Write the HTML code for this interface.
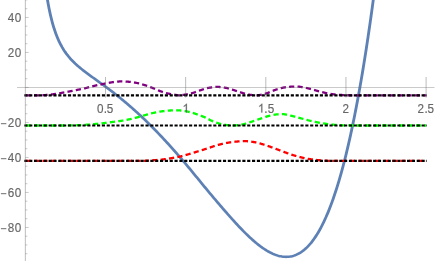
<!DOCTYPE html>
<html><head><meta charset="utf-8"><title>plot</title>
<style>
html,body{margin:0;padding:0;background:#fff;}
body{width:436px;height:261px;overflow:hidden;}
svg{display:block;}
text{font-family:"Liberation Sans",sans-serif;font-size:11.7px;fill:#666;stroke:#666;stroke-width:0.15px;letter-spacing:0.45px;}
</style></head><body>
<svg width="436" height="261" viewBox="0 0 436 261">
<rect width="436" height="261" fill="#fff"/>
<g transform="scale(1.12,1)"><path d="M40.62,-13.19 L40.85,-11.38 L41.07,-9.62 L41.29,-7.90 L41.52,-6.24 L41.74,-4.62 L41.96,-3.04 L42.19,-1.51 L42.41,-0.02 L42.63,1.44 L42.86,2.85 L43.08,4.23 L43.30,5.57 L43.53,6.88 L43.75,8.16 L43.97,9.40 L44.20,10.61 L44.42,11.80 L44.64,12.95 L44.87,14.08 L45.09,15.17 L45.31,16.25 L45.54,17.30 L45.76,18.32 L45.98,19.32 L46.21,20.30 L46.43,21.25 L46.65,22.18 L46.87,23.10 L47.10,23.99 L47.32,24.86 L47.54,25.71 L47.77,26.55 L47.99,27.37 L48.21,28.17 L48.44,28.95 L48.66,29.72 L48.88,30.47 L49.11,31.20 L49.33,31.92 L49.55,32.63 L49.78,33.32 L50.00,34.00 L50.22,34.66 L50.45,35.31 L50.67,35.95 L50.89,36.58 L51.12,37.20 L51.34,37.80 L51.56,38.39 L51.79,38.97 L52.01,39.54 L52.23,40.10 L52.46,40.65 L52.68,41.19 L52.90,41.72 L53.12,42.24 L53.35,42.76 L53.57,43.26 L54.46,45.19 L55.36,47.00 L56.25,48.69 L57.14,50.28 L58.04,51.79 L58.93,53.21 L59.82,54.56 L60.71,55.84 L61.61,57.06 L62.50,58.22 L63.39,59.33 L64.29,60.40 L65.18,61.43 L66.07,62.43 L66.96,63.39 L67.86,64.31 L68.75,65.22 L69.64,66.09 L70.54,66.95 L71.43,67.79 L72.32,68.61 L73.21,69.41 L74.11,70.20 L75.00,70.98 L75.89,71.74 L76.79,72.50 L77.68,73.25 L78.57,73.99 L79.46,74.72 L80.36,75.46 L81.25,76.18 L82.14,76.90 L83.04,77.63 L83.93,78.34 L84.82,79.06 L85.71,79.78 L86.61,80.50 L87.50,81.22 L88.39,81.93 L89.29,82.65 L90.18,83.38 L91.07,84.10 L91.96,84.83 L92.86,85.56 L93.75,86.29 L94.64,87.03 L95.54,87.77 L96.43,88.52 L97.32,89.26 L98.21,90.02 L99.11,90.78 L100.00,91.54 L100.89,92.31 L101.79,93.08 L102.68,93.86 L103.57,94.64 L104.46,95.43 L105.36,96.22 L106.25,97.02 L107.14,97.83 L108.04,98.64 L108.93,99.46 L109.82,100.28 L110.71,101.11 L111.61,101.94 L112.50,102.78 L113.39,103.63 L114.29,104.49 L115.18,105.35 L116.07,106.21 L116.96,107.08 L117.86,107.96 L118.75,108.85 L119.64,109.74 L120.54,110.63 L121.43,111.54 L122.32,112.45 L123.21,113.36 L124.11,114.29 L125.00,115.21 L125.89,116.15 L126.79,117.09 L127.68,118.04 L128.57,118.99 L129.46,119.95 L130.36,120.92 L131.25,121.89 L132.14,122.87 L133.04,123.85 L133.93,124.84 L134.82,125.84 L135.71,126.84 L136.61,127.85 L137.50,128.87 L138.39,129.89 L139.29,130.91 L140.18,131.94 L141.07,132.98 L141.96,134.03 L142.86,135.08 L143.75,136.13 L144.64,137.19 L145.54,138.26 L146.43,139.33 L147.32,140.41 L148.21,141.49 L149.11,142.58 L150.00,143.67 L150.89,144.77 L151.79,145.88 L152.68,146.99 L153.57,148.10 L154.46,149.23 L155.36,150.35 L156.25,151.48 L157.14,152.62 L158.04,153.76 L158.93,154.91 L159.82,156.06 L160.71,157.22 L161.61,158.39 L162.50,159.56 L163.39,160.73 L164.29,161.91 L165.18,163.09 L166.07,164.28 L166.96,165.48 L167.86,166.67 L168.75,167.88 L169.64,169.08 L170.54,170.29 L171.43,171.51 L172.32,172.72 L173.21,173.94 L174.11,175.16 L175.00,176.39 L175.89,177.61 L176.79,178.83 L177.68,180.06 L178.57,181.28 L179.46,182.51 L180.36,183.73 L181.25,184.95 L182.14,186.16 L183.04,187.38 L183.93,188.59 L184.82,189.80 L185.71,191.01 L186.61,192.21 L187.50,193.41 L188.39,194.61 L189.29,195.80 L190.18,196.99 L191.07,198.17 L191.96,199.35 L192.86,200.53 L193.75,201.71 L194.64,202.88 L195.54,204.05 L196.43,205.22 L197.32,206.38 L198.21,207.54 L199.11,208.70 L200.00,209.85 L200.89,211.00 L201.79,212.15 L202.68,213.29 L203.57,214.43 L204.46,215.56 L205.36,216.69 L206.25,217.82 L207.14,218.93 L208.04,220.05 L208.93,221.15 L209.82,222.25 L210.71,223.34 L211.61,224.42 L212.50,225.50 L213.39,226.56 L214.29,227.62 L215.18,228.67 L216.07,229.70 L216.96,230.73 L217.86,231.74 L218.75,232.74 L219.64,233.73 L220.54,234.71 L221.43,235.67 L222.32,236.62 L223.21,237.55 L224.11,238.47 L225.00,239.38 L225.89,240.27 L226.79,241.14 L227.68,241.99 L228.57,242.83 L229.46,243.65 L230.36,244.45 L231.25,245.23 L232.14,246.00 L233.04,246.74 L233.93,247.46 L234.82,248.16 L235.71,248.84 L236.61,249.49 L237.50,250.12 L238.39,250.73 L239.29,251.31 L240.18,251.87 L241.07,252.41 L241.96,252.91 L242.86,253.39 L243.75,253.84 L244.64,254.26 L245.54,254.66 L246.43,255.02 L247.32,255.35 L248.21,255.66 L249.11,255.93 L250.00,256.16 L250.89,256.37 L251.79,256.54 L252.68,256.67 L253.57,256.77 L254.46,256.83 L255.36,256.86 L256.25,256.85 L257.14,256.80 L258.04,256.70 L258.93,256.57 L259.82,256.40 L260.71,256.18 L261.61,255.93 L262.50,255.62 L263.39,255.28 L264.29,254.88 L265.18,254.45 L266.07,253.96 L266.96,253.42 L267.86,252.84 L268.75,252.21 L269.64,251.52 L270.54,250.78 L271.43,249.99 L272.32,249.15 L273.21,248.25 L274.11,247.29 L275.00,246.28 L275.89,245.21 L276.79,244.08 L277.68,242.89 L278.57,241.64 L279.46,240.33 L280.36,238.95 L281.25,237.51 L282.14,236.00 L283.04,234.43 L283.93,232.79 L284.82,231.08 L285.71,229.31 L286.61,227.46 L287.50,225.54 L288.39,223.54 L289.29,221.47 L290.18,219.33 L291.07,217.11 L291.96,214.81 L292.86,212.43 L293.75,209.97 L294.64,207.43 L294.87,206.79 L295.09,206.13 L295.31,205.47 L295.54,204.81 L295.76,204.14 L295.98,203.47 L296.21,202.79 L296.43,202.10 L296.65,201.41 L296.88,200.72 L297.10,200.02 L297.32,199.31 L297.54,198.60 L297.77,197.88 L297.99,197.16 L298.21,196.43 L298.44,195.70 L298.66,194.96 L298.88,194.22 L299.11,193.47 L299.33,192.71 L299.55,191.95 L299.78,191.18 L300.00,190.41 L300.22,189.63 L300.45,188.85 L300.67,188.06 L300.89,187.27 L301.12,186.47 L301.34,185.66 L301.56,184.85 L301.79,184.03 L302.01,183.20 L302.23,182.37 L302.46,181.54 L302.68,180.70 L302.90,179.85 L303.12,179.00 L303.35,178.14 L303.57,177.27 L303.79,176.40 L304.02,175.52 L304.24,174.64 L304.46,173.75 L304.69,172.86 L304.91,171.96 L305.13,171.05 L305.36,170.13 L305.58,169.21 L305.80,168.29 L306.03,167.36 L306.25,166.42 L306.47,165.47 L306.70,164.52 L306.92,163.56 L307.14,162.60 L307.37,161.63 L307.59,160.66 L307.81,159.67 L308.04,158.68 L308.26,157.69 L308.48,156.69 L308.71,155.68 L308.93,154.66 L309.15,153.64 L309.37,152.61 L309.60,151.58 L309.82,150.54 L310.04,149.49 L310.27,148.44 L310.49,147.38 L310.71,146.31 L310.94,145.24 L311.16,144.16 L311.38,143.07 L311.61,141.97 L311.83,140.87 L312.05,139.76 L312.28,138.65 L312.50,137.53 L312.72,136.40 L312.95,135.27 L313.17,134.12 L313.39,132.97 L313.62,131.82 L313.84,130.66 L314.06,129.49 L314.29,128.31 L314.51,127.12 L314.73,125.93 L314.96,124.74 L315.18,123.53 L315.40,122.32 L315.62,121.10 L315.85,119.87 L316.07,118.64 L316.29,117.40 L316.52,116.15 L316.74,114.89 L316.96,113.63 L317.19,112.36 L317.41,111.08 L317.63,109.80 L317.86,108.50 L318.08,107.20 L318.30,105.90 L318.53,104.58 L318.75,103.26 L318.97,101.93 L319.20,100.59 L319.42,99.25 L319.64,97.90 L319.87,96.54 L320.09,95.17 L320.31,93.79 L320.54,92.41 L320.76,91.02 L320.98,89.62 L321.21,88.21 L321.43,86.80 L321.65,85.38 L321.87,83.95 L322.10,82.51 L322.32,81.07 L322.54,79.61 L322.77,78.15 L322.99,76.68 L323.21,75.21 L323.44,73.72 L323.66,72.23 L323.88,70.73 L324.11,69.22 L324.33,67.70 L324.55,66.18 L324.78,64.64 L325.00,63.10 L325.22,61.55 L325.45,59.99 L325.67,58.43 L325.89,56.85 L326.12,55.27 L326.34,53.68 L326.56,52.08 L326.79,50.47 L327.01,48.85 L327.23,47.23 L327.46,45.59 L327.68,43.95 L327.90,42.30 L328.12,40.64 L328.35,38.98 L328.57,37.30 L328.79,35.62 L329.02,33.92 L329.24,32.22 L329.46,30.51 L329.69,28.79 L329.91,27.06 L330.13,25.33 L330.36,23.58 L330.58,21.83 L330.80,20.06 L331.03,18.29 L331.25,16.51 L331.47,14.72 L331.70,12.92 L331.92,11.11 L332.14,9.30 L332.37,7.47 L332.59,5.64 L332.81,3.79 L333.04,1.94 L333.26,0.08 L333.48,-1.79 L333.71,-3.68 L333.93,-5.56 L334.15,-7.46 L334.37,-9.37 L334.60,-11.29 L334.82,-13.22" fill="none" stroke="#5e81b5" stroke-width="2.55" stroke-linejoin="round"/></g>
<path d="M25.50,95.30 L26.00,95.30 L26.50,95.30 L27.00,95.30 L27.50,95.30 L28.00,95.30 L28.50,95.30 L29.00,95.30 L29.50,95.30 L30.00,95.30 L30.50,95.30 L31.00,95.30 L31.50,95.30 L32.00,95.30 L32.50,95.30 L33.00,95.30 L33.50,95.31 L34.00,95.31 L34.50,95.32 L35.00,95.32 L35.50,95.33 L36.00,95.33 L36.50,95.34 L37.00,95.34 L37.50,95.35 L38.00,95.35 L38.50,95.35 L39.00,95.35 L39.50,95.34 L40.00,95.33 L40.50,95.32 L41.00,95.30 L41.50,95.28 L42.00,95.26 L42.50,95.23 L43.00,95.21 L43.50,95.18 L44.00,95.15 L44.50,95.12 L45.00,95.08 L45.50,95.05 L46.00,95.01 L46.50,94.98 L47.00,94.94 L47.50,94.91 L48.00,94.87 L48.50,94.83 L49.00,94.78 L49.50,94.73 L50.00,94.67 L50.50,94.61 L51.00,94.55 L51.50,94.49 L52.00,94.42 L52.50,94.35 L53.00,94.27 L53.50,94.20 L54.00,94.13 L54.50,94.05 L55.00,93.97 L55.50,93.90 L56.00,93.82 L56.50,93.74 L57.00,93.67 L57.50,93.59 L58.00,93.52 L58.50,93.44 L59.00,93.35 L59.50,93.27 L60.00,93.18 L60.50,93.10 L61.00,93.01 L61.50,92.92 L62.00,92.83 L62.50,92.74 L63.00,92.65 L63.50,92.56 L64.00,92.47 L64.50,92.38 L65.00,92.28 L65.50,92.19 L66.00,92.10 L66.50,92.01 L67.00,91.91 L67.50,91.82 L68.00,91.72 L68.50,91.63 L69.00,91.53 L69.50,91.44 L70.00,91.34 L70.50,91.24 L71.00,91.14 L71.50,91.04 L72.00,90.94 L72.50,90.84 L73.00,90.74 L73.50,90.64 L74.00,90.54 L74.50,90.44 L75.00,90.34 L75.50,90.24 L76.00,90.14 L76.50,90.04 L77.00,89.94 L77.50,89.84 L78.00,89.74 L78.50,89.64 L79.00,89.54 L79.50,89.44 L80.00,89.34 L80.50,89.24 L81.00,89.14 L81.50,89.04 L82.00,88.93 L82.50,88.82 L83.00,88.71 L83.50,88.60 L84.00,88.49 L84.50,88.38 L85.00,88.26 L85.50,88.14 L86.00,88.01 L86.50,87.88 L87.00,87.75 L87.50,87.62 L88.00,87.48 L88.50,87.34 L89.00,87.21 L89.50,87.07 L90.00,86.93 L90.50,86.80 L91.00,86.66 L91.50,86.53 L92.00,86.40 L92.50,86.27 L93.00,86.14 L93.50,86.02 L94.00,85.91 L94.50,85.79 L95.00,85.68 L95.50,85.56 L96.00,85.45 L96.50,85.34 L97.00,85.23 L97.50,85.13 L98.00,85.02 L98.50,84.91 L99.00,84.81 L99.50,84.70 L100.00,84.60 L100.50,84.50 L101.00,84.39 L101.50,84.29 L102.00,84.19 L102.50,84.08 L103.00,83.98 L103.50,83.88 L104.00,83.78 L104.50,83.69 L105.00,83.59 L105.50,83.49 L106.00,83.40 L106.50,83.31 L107.00,83.21 L107.50,83.11 L108.00,83.01 L108.50,82.91 L109.00,82.81 L109.50,82.72 L110.00,82.62 L110.50,82.53 L111.00,82.44 L111.50,82.35 L112.00,82.27 L112.50,82.19 L113.00,82.12 L113.50,82.06 L114.00,82.00 L114.50,81.94 L115.00,81.89 L115.50,81.83 L116.00,81.78 L116.50,81.72 L117.00,81.67 L117.50,81.62 L118.00,81.57 L118.50,81.53 L119.00,81.49 L119.50,81.46 L120.00,81.44 L120.50,81.42 L121.00,81.40 L121.50,81.40 L122.00,81.40 L122.50,81.41 L123.00,81.42 L123.50,81.44 L124.00,81.46 L124.50,81.48 L125.00,81.51 L125.50,81.54 L126.00,81.58 L126.50,81.61 L127.00,81.65 L127.50,81.68 L128.00,81.72 L128.50,81.76 L129.00,81.80 L129.50,81.84 L130.00,81.89 L130.50,81.94 L131.00,82.00 L131.50,82.07 L132.00,82.13 L132.50,82.21 L133.00,82.28 L133.50,82.36 L134.00,82.44 L134.50,82.53 L135.00,82.61 L135.50,82.70 L136.00,82.79 L136.50,82.89 L137.00,83.00 L137.50,83.11 L138.00,83.23 L138.50,83.35 L139.00,83.48 L139.50,83.61 L140.00,83.75 L140.50,83.89 L141.00,84.03 L141.50,84.17 L142.00,84.31 L142.50,84.46 L143.00,84.60 L143.50,84.75 L144.00,84.90 L144.50,85.05 L145.00,85.20 L145.50,85.36 L146.00,85.53 L146.50,85.69 L147.00,85.86 L147.50,86.03 L148.00,86.21 L148.50,86.38 L149.00,86.56 L149.50,86.74 L150.00,86.93 L150.50,87.11 L151.00,87.31 L151.50,87.51 L152.00,87.71 L152.50,87.92 L153.00,88.13 L153.50,88.34 L154.00,88.56 L154.50,88.77 L155.00,88.98 L155.50,89.19 L156.00,89.40 L156.50,89.61 L157.00,89.82 L157.50,90.03 L158.00,90.24 L158.50,90.45 L159.00,90.66 L159.50,90.86 L160.00,91.06 L160.50,91.25 L161.00,91.43 L161.50,91.60 L162.00,91.77 L162.50,91.94 L163.00,92.10 L163.50,92.26 L164.00,92.42 L164.50,92.57 L165.00,92.72 L165.50,92.86 L166.00,93.00 L166.50,93.13 L167.00,93.26 L167.50,93.38 L168.00,93.50 L168.50,93.61 L169.00,93.72 L169.50,93.82 L170.00,93.91 L170.50,94.01 L171.00,94.10 L171.50,94.19 L172.00,94.27 L172.50,94.35 L173.00,94.44 L173.50,94.52 L174.00,94.60 L174.50,94.69 L175.00,94.78 L175.50,94.88 L176.00,94.97 L176.50,95.06 L177.00,95.15 L177.50,95.22 L178.00,95.27 L178.50,95.29 L179.00,95.30 L179.50,95.29 L180.00,95.26 L180.50,95.22 L181.00,95.18 L181.50,95.12 L182.00,95.06 L182.50,95.00 L183.00,94.93 L183.50,94.87 L184.00,94.80 L184.50,94.73 L185.00,94.66 L185.50,94.58 L186.00,94.50 L186.50,94.41 L187.00,94.31 L187.50,94.21 L188.00,94.11 L188.50,94.00 L189.00,93.89 L189.50,93.77 L190.00,93.65 L190.50,93.53 L191.00,93.41 L191.50,93.28 L192.00,93.16 L192.50,93.03 L193.00,92.89 L193.50,92.75 L194.00,92.59 L194.50,92.43 L195.00,92.26 L195.50,92.08 L196.00,91.90 L196.50,91.72 L197.00,91.53 L197.50,91.34 L198.00,91.15 L198.50,90.96 L199.00,90.77 L199.50,90.59 L200.00,90.40 L200.50,90.23 L201.00,90.06 L201.50,89.89 L202.00,89.74 L202.50,89.58 L203.00,89.42 L203.50,89.26 L204.00,89.10 L204.50,88.94 L205.00,88.79 L205.50,88.63 L206.00,88.49 L206.50,88.35 L207.00,88.22 L207.50,88.10 L208.00,87.98 L208.50,87.89 L209.00,87.80 L209.50,87.72 L210.00,87.64 L210.50,87.57 L211.00,87.49 L211.50,87.42 L212.00,87.34 L212.50,87.28 L213.00,87.21 L213.50,87.15 L214.00,87.09 L214.50,87.05 L215.00,87.00 L215.50,86.97 L216.00,86.94 L216.50,86.92 L217.00,86.90 L217.50,86.90 L218.00,86.91 L218.50,86.92 L219.00,86.95 L219.50,86.99 L220.00,87.03 L220.50,87.08 L221.00,87.13 L221.50,87.19 L222.00,87.26 L222.50,87.33 L223.00,87.40 L223.50,87.47 L224.00,87.55 L224.50,87.62 L225.00,87.70 L225.50,87.78 L226.00,87.88 L226.50,87.99 L227.00,88.11 L227.50,88.23 L228.00,88.37 L228.50,88.51 L229.00,88.65 L229.50,88.80 L230.00,88.95 L230.50,89.10 L231.00,89.24 L231.50,89.39 L232.00,89.54 L232.50,89.69 L233.00,89.85 L233.50,90.01 L234.00,90.17 L234.50,90.34 L235.00,90.51 L235.50,90.67 L236.00,90.84 L236.50,91.01 L237.00,91.17 L237.50,91.34 L238.00,91.50 L238.50,91.66 L239.00,91.83 L239.50,91.99 L240.00,92.16 L240.50,92.32 L241.00,92.49 L241.50,92.65 L242.00,92.81 L242.50,92.97 L243.00,93.12 L243.50,93.26 L244.00,93.40 L244.50,93.54 L245.00,93.67 L245.50,93.81 L246.00,93.95 L246.50,94.09 L247.00,94.22 L247.50,94.34 L248.00,94.45 L248.50,94.56 L249.00,94.65 L249.50,94.73 L250.00,94.80 L250.50,94.86 L251.00,94.91 L251.50,94.97 L252.00,95.02 L252.50,95.07 L253.00,95.12 L253.50,95.16 L254.00,95.20 L254.50,95.23 L255.00,95.26 L255.50,95.28 L256.00,95.29 L256.50,95.30 L257.00,95.29 L257.50,95.27 L258.00,95.23 L258.50,95.18 L259.00,95.11 L259.50,95.04 L260.00,94.96 L260.50,94.87 L261.00,94.78 L261.50,94.69 L262.00,94.60 L262.50,94.50 L263.00,94.39 L263.50,94.26 L264.00,94.12 L264.50,93.97 L265.00,93.82 L265.50,93.66 L266.00,93.51 L266.50,93.34 L267.00,93.17 L267.50,92.99 L268.00,92.80 L268.50,92.61 L269.00,92.41 L269.50,92.21 L270.00,92.00 L270.50,91.79 L271.00,91.58 L271.50,91.37 L272.00,91.17 L272.50,90.96 L273.00,90.76 L273.50,90.56 L274.00,90.36 L274.50,90.17 L275.00,89.99 L275.50,89.81 L276.00,89.65 L276.50,89.49 L277.00,89.34 L277.50,89.20 L278.00,89.05 L278.50,88.90 L279.00,88.75 L279.50,88.61 L280.00,88.47 L280.50,88.33 L281.00,88.19 L281.50,88.06 L282.00,87.94 L282.50,87.82 L283.00,87.70 L283.50,87.60 L284.00,87.50 L284.50,87.41 L285.00,87.33 L285.50,87.26 L286.00,87.20 L286.50,87.15 L287.00,87.09 L287.50,87.04 L288.00,86.99 L288.50,86.94 L289.00,86.90 L289.50,86.85 L290.00,86.81 L290.50,86.76 L291.00,86.72 L291.50,86.69 L292.00,86.65 L292.50,86.62 L293.00,86.59 L293.50,86.57 L294.00,86.55 L294.50,86.53 L295.00,86.52 L295.50,86.51 L296.00,86.50 L296.50,86.50 L297.00,86.51 L297.50,86.54 L298.00,86.58 L298.50,86.63 L299.00,86.68 L299.50,86.75 L300.00,86.82 L300.50,86.90 L301.00,86.98 L301.50,87.06 L302.00,87.14 L302.50,87.22 L303.00,87.30 L303.50,87.38 L304.00,87.47 L304.50,87.57 L305.00,87.67 L305.50,87.78 L306.00,87.89 L306.50,88.00 L307.00,88.12 L307.50,88.24 L308.00,88.36 L308.50,88.48 L309.00,88.60 L309.50,88.72 L310.00,88.85 L310.50,88.97 L311.00,89.10 L311.50,89.24 L312.00,89.37 L312.50,89.51 L313.00,89.65 L313.50,89.79 L314.00,89.93 L314.50,90.07 L315.00,90.22 L315.50,90.36 L316.00,90.50 L316.50,90.64 L317.00,90.77 L317.50,90.91 L318.00,91.04 L318.50,91.17 L319.00,91.30 L319.50,91.42 L320.00,91.55 L320.50,91.67 L321.00,91.80 L321.50,91.93 L322.00,92.06 L322.50,92.19 L323.00,92.31 L323.50,92.44 L324.00,92.56 L324.50,92.69 L325.00,92.81 L325.50,92.93 L326.00,93.05 L326.50,93.16 L327.00,93.27 L327.50,93.37 L328.00,93.48 L328.50,93.57 L329.00,93.66 L329.50,93.75 L330.00,93.83 L330.50,93.90 L331.00,93.97 L331.50,94.04 L332.00,94.10 L332.50,94.17 L333.00,94.23 L333.50,94.29 L334.00,94.35 L334.50,94.41 L335.00,94.47 L335.50,94.53 L336.00,94.58 L336.50,94.63 L337.00,94.68 L337.50,94.73 L338.00,94.77 L338.50,94.81 L339.00,94.85 L339.50,94.89 L340.00,94.92 L340.50,94.95 L341.00,94.98 L341.50,95.00 L342.00,95.02 L342.50,95.04 L343.00,95.07 L343.50,95.09 L344.00,95.11 L344.50,95.13 L345.00,95.15 L345.50,95.17 L346.00,95.18 L346.50,95.20 L347.00,95.22 L347.50,95.23 L348.00,95.24 L348.50,95.26 L349.00,95.27 L349.50,95.28 L350.00,95.29 L350.50,95.29 L351.00,95.30 L351.50,95.30 L352.00,95.30 L352.50,95.30 L353.00,95.30 L353.50,95.30 L354.00,95.30 L354.50,95.30 L355.00,95.30 L355.50,95.30 L356.00,95.30 L356.50,95.30 L357.00,95.30 L357.50,95.30 L358.00,95.30 L358.50,95.30 L359.00,95.30 L359.50,95.30 L360.00,95.30 L360.50,95.30 L361.00,95.30 L361.50,95.30 L362.00,95.30 L362.50,95.30 L363.00,95.30 L363.50,95.30 L364.00,95.30 L364.50,95.30 L365.00,95.30 L365.50,95.30 L366.00,95.30 L366.50,95.30 L367.00,95.30 L367.50,95.30 L368.00,95.30 L368.50,95.30 L369.00,95.30 L369.50,95.30 L370.00,95.30 L370.50,95.30 L371.00,95.30 L371.50,95.30 L372.00,95.30 L372.50,95.30 L373.00,95.30 L373.50,95.30 L374.00,95.30 L374.50,95.30 L375.00,95.30 L375.50,95.30 L376.00,95.30 L376.50,95.30 L377.00,95.30 L377.50,95.30 L378.00,95.30 L378.50,95.30 L379.00,95.30 L379.50,95.30 L380.00,95.30 L380.50,95.30 L381.00,95.30 L381.50,95.30 L382.00,95.30 L382.50,95.30 L383.00,95.30 L383.50,95.30 L384.00,95.30 L384.50,95.30 L385.00,95.30 L385.50,95.30 L386.00,95.30 L386.50,95.30 L387.00,95.30 L387.50,95.30 L388.00,95.30 L388.50,95.30 L389.00,95.30 L389.50,95.30 L390.00,95.30 L390.50,95.30 L391.00,95.30 L391.50,95.30 L392.00,95.30 L392.50,95.30 L393.00,95.30 L393.50,95.30 L394.00,95.30 L394.50,95.30 L395.00,95.30 L395.50,95.30 L396.00,95.30 L396.50,95.30 L397.00,95.30 L397.50,95.30 L398.00,95.30 L398.50,95.30 L399.00,95.30 L399.50,95.30 L400.00,95.30 L400.50,95.30 L401.00,95.30 L401.50,95.30 L402.00,95.30 L402.50,95.30 L403.00,95.30 L403.50,95.30 L404.00,95.30 L404.50,95.30 L405.00,95.30 L405.50,95.30 L406.00,95.30 L406.50,95.30 L407.00,95.30 L407.50,95.30 L408.00,95.30 L408.50,95.30 L409.00,95.30 L409.50,95.30 L410.00,95.30 L410.50,95.30 L411.00,95.30 L411.50,95.30 L412.00,95.30 L412.50,95.30 L413.00,95.30 L413.50,95.30 L414.00,95.30 L414.50,95.30 L415.00,95.30 L415.50,95.30 L416.00,95.30 L416.50,95.30 L417.00,95.30 L417.50,95.30 L418.00,95.30 L418.50,95.30 L419.00,95.30 L419.50,95.30 L420.00,95.30 L420.50,95.30 L421.00,95.30 L421.50,95.30 L422.00,95.30 L422.50,95.30 L423.00,95.30 L423.50,95.30 L424.00,95.30 L424.50,95.30 L425.00,95.30 L425.50,95.30 L426.00,95.30" fill="none" stroke="#800080" stroke-width="2.3" stroke-dasharray="5.23 3.22"/>
<path d="M25.50,125.50 L26.00,125.50 L26.50,125.50 L27.00,125.50 L27.50,125.50 L28.00,125.50 L28.50,125.50 L29.00,125.50 L29.50,125.50 L30.00,125.50 L30.50,125.50 L31.00,125.50 L31.50,125.50 L32.00,125.50 L32.50,125.50 L33.00,125.50 L33.50,125.50 L34.00,125.50 L34.50,125.50 L35.00,125.50 L35.50,125.50 L36.00,125.50 L36.50,125.50 L37.00,125.50 L37.50,125.50 L38.00,125.50 L38.50,125.50 L39.00,125.50 L39.50,125.50 L40.00,125.50 L40.50,125.50 L41.00,125.50 L41.50,125.50 L42.00,125.50 L42.50,125.50 L43.00,125.50 L43.50,125.50 L44.00,125.50 L44.50,125.50 L45.00,125.50 L45.50,125.50 L46.00,125.50 L46.50,125.50 L47.00,125.50 L47.50,125.50 L48.00,125.50 L48.50,125.50 L49.00,125.50 L49.50,125.50 L50.00,125.50 L50.50,125.50 L51.00,125.50 L51.50,125.50 L52.00,125.50 L52.50,125.50 L53.00,125.50 L53.50,125.50 L54.00,125.50 L54.50,125.50 L55.00,125.50 L55.50,125.50 L56.00,125.50 L56.50,125.50 L57.00,125.50 L57.50,125.50 L58.00,125.50 L58.50,125.50 L59.00,125.50 L59.50,125.50 L60.00,125.50 L60.50,125.50 L61.00,125.50 L61.50,125.50 L62.00,125.50 L62.50,125.50 L63.00,125.50 L63.50,125.50 L64.00,125.50 L64.50,125.50 L65.00,125.50 L65.50,125.50 L66.00,125.50 L66.50,125.49 L67.00,125.49 L67.50,125.48 L68.00,125.48 L68.50,125.47 L69.00,125.46 L69.50,125.45 L70.00,125.44 L70.50,125.43 L71.00,125.42 L71.50,125.41 L72.00,125.40 L72.50,125.38 L73.00,125.37 L73.50,125.35 L74.00,125.34 L74.50,125.32 L75.00,125.31 L75.50,125.29 L76.00,125.27 L76.50,125.26 L77.00,125.24 L77.50,125.22 L78.00,125.21 L78.50,125.19 L79.00,125.17 L79.50,125.15 L80.00,125.13 L80.50,125.11 L81.00,125.09 L81.50,125.06 L82.00,125.03 L82.50,125.01 L83.00,124.98 L83.50,124.95 L84.00,124.92 L84.50,124.88 L85.00,124.85 L85.50,124.82 L86.00,124.78 L86.50,124.74 L87.00,124.71 L87.50,124.67 L88.00,124.63 L88.50,124.59 L89.00,124.55 L89.50,124.51 L90.00,124.47 L90.50,124.43 L91.00,124.38 L91.50,124.34 L92.00,124.30 L92.50,124.25 L93.00,124.21 L93.50,124.17 L94.00,124.12 L94.50,124.08 L95.00,124.03 L95.50,123.99 L96.00,123.94 L96.50,123.89 L97.00,123.85 L97.50,123.80 L98.00,123.75 L98.50,123.71 L99.00,123.65 L99.50,123.60 L100.00,123.55 L100.50,123.50 L101.00,123.44 L101.50,123.38 L102.00,123.33 L102.50,123.27 L103.00,123.21 L103.50,123.15 L104.00,123.09 L104.50,123.03 L105.00,122.96 L105.50,122.90 L106.00,122.84 L106.50,122.77 L107.00,122.71 L107.50,122.64 L108.00,122.58 L108.50,122.51 L109.00,122.45 L109.50,122.38 L110.00,122.31 L110.50,122.25 L111.00,122.18 L111.50,122.11 L112.00,122.05 L112.50,121.98 L113.00,121.91 L113.50,121.85 L114.00,121.78 L114.50,121.72 L115.00,121.65 L115.50,121.58 L116.00,121.52 L116.50,121.46 L117.00,121.39 L117.50,121.33 L118.00,121.26 L118.50,121.20 L119.00,121.13 L119.50,121.06 L120.00,120.99 L120.50,120.92 L121.00,120.85 L121.50,120.78 L122.00,120.70 L122.50,120.62 L123.00,120.54 L123.50,120.45 L124.00,120.37 L124.50,120.28 L125.00,120.18 L125.50,120.09 L126.00,119.99 L126.50,119.89 L127.00,119.79 L127.50,119.69 L128.00,119.58 L128.50,119.48 L129.00,119.37 L129.50,119.26 L130.00,119.15 L130.50,119.04 L131.00,118.93 L131.50,118.81 L132.00,118.69 L132.50,118.57 L133.00,118.45 L133.50,118.33 L134.00,118.20 L134.50,118.08 L135.00,117.95 L135.50,117.82 L136.00,117.69 L136.50,117.56 L137.00,117.43 L137.50,117.29 L138.00,117.16 L138.50,117.03 L139.00,116.89 L139.50,116.76 L140.00,116.62 L140.50,116.49 L141.00,116.35 L141.50,116.20 L142.00,116.06 L142.50,115.91 L143.00,115.76 L143.50,115.61 L144.00,115.45 L144.50,115.30 L145.00,115.15 L145.50,114.99 L146.00,114.84 L146.50,114.69 L147.00,114.54 L147.50,114.39 L148.00,114.25 L148.50,114.11 L149.00,113.97 L149.50,113.84 L150.00,113.71 L150.50,113.58 L151.00,113.46 L151.50,113.35 L152.00,113.23 L152.50,113.12 L153.00,113.00 L153.50,112.89 L154.00,112.78 L154.50,112.67 L155.00,112.56 L155.50,112.46 L156.00,112.35 L156.50,112.25 L157.00,112.15 L157.50,112.06 L158.00,111.96 L158.50,111.87 L159.00,111.78 L159.50,111.70 L160.00,111.61 L160.50,111.54 L161.00,111.46 L161.50,111.39 L162.00,111.32 L162.50,111.25 L163.00,111.19 L163.50,111.12 L164.00,111.06 L164.50,111.00 L165.00,110.94 L165.50,110.88 L166.00,110.83 L166.50,110.77 L167.00,110.72 L167.50,110.68 L168.00,110.63 L168.50,110.59 L169.00,110.56 L169.50,110.53 L170.00,110.50 L170.50,110.48 L171.00,110.46 L171.50,110.44 L172.00,110.42 L172.50,110.40 L173.00,110.38 L173.50,110.36 L174.00,110.34 L174.50,110.33 L175.00,110.32 L175.50,110.31 L176.00,110.30 L176.50,110.30 L177.00,110.30 L177.50,110.31 L178.00,110.33 L178.50,110.35 L179.00,110.38 L179.50,110.42 L180.00,110.46 L180.50,110.51 L181.00,110.56 L181.50,110.61 L182.00,110.67 L182.50,110.73 L183.00,110.79 L183.50,110.85 L184.00,110.91 L184.50,110.98 L185.00,111.05 L185.50,111.14 L186.00,111.23 L186.50,111.32 L187.00,111.43 L187.50,111.54 L188.00,111.65 L188.50,111.77 L189.00,111.90 L189.50,112.02 L190.00,112.15 L190.50,112.28 L191.00,112.41 L191.50,112.54 L192.00,112.68 L192.50,112.82 L193.00,112.97 L193.50,113.13 L194.00,113.29 L194.50,113.46 L195.00,113.63 L195.50,113.80 L196.00,113.98 L196.50,114.15 L197.00,114.33 L197.50,114.51 L198.00,114.69 L198.50,114.86 L199.00,115.04 L199.50,115.22 L200.00,115.41 L200.50,115.59 L201.00,115.78 L201.50,115.97 L202.00,116.16 L202.50,116.36 L203.00,116.56 L203.50,116.76 L204.00,116.97 L204.50,117.18 L205.00,117.40 L205.50,117.62 L206.00,117.86 L206.50,118.11 L207.00,118.36 L207.50,118.61 L208.00,118.87 L208.50,119.13 L209.00,119.39 L209.50,119.65 L210.00,119.91 L210.50,120.17 L211.00,120.42 L211.50,120.66 L212.00,120.90 L212.50,121.13 L213.00,121.35 L213.50,121.56 L214.00,121.75 L214.50,121.94 L215.00,122.12 L215.50,122.31 L216.00,122.49 L216.50,122.67 L217.00,122.85 L217.50,123.02 L218.00,123.19 L218.50,123.36 L219.00,123.52 L219.50,123.67 L220.00,123.82 L220.50,123.96 L221.00,124.09 L221.50,124.21 L222.00,124.33 L222.50,124.43 L223.00,124.52 L223.50,124.60 L224.00,124.67 L224.50,124.75 L225.00,124.82 L225.50,124.89 L226.00,124.96 L226.50,125.03 L227.00,125.09 L227.50,125.15 L228.00,125.21 L228.50,125.27 L229.00,125.32 L229.50,125.36 L230.00,125.40 L230.50,125.43 L231.00,125.46 L231.50,125.48 L232.00,125.49 L232.50,125.50 L233.00,125.50 L233.50,125.49 L234.00,125.47 L234.50,125.44 L235.00,125.41 L235.50,125.38 L236.00,125.33 L236.50,125.29 L237.00,125.23 L237.50,125.18 L238.00,125.12 L238.50,125.05 L239.00,124.99 L239.50,124.92 L240.00,124.85 L240.50,124.77 L241.00,124.70 L241.50,124.63 L242.00,124.55 L242.50,124.46 L243.00,124.37 L243.50,124.26 L244.00,124.14 L244.50,124.01 L245.00,123.87 L245.50,123.72 L246.00,123.57 L246.50,123.41 L247.00,123.25 L247.50,123.09 L248.00,122.92 L248.50,122.75 L249.00,122.58 L249.50,122.42 L250.00,122.25 L250.50,122.09 L251.00,121.93 L251.50,121.77 L252.00,121.61 L252.50,121.44 L253.00,121.28 L253.50,121.10 L254.00,120.93 L254.50,120.76 L255.00,120.58 L255.50,120.41 L256.00,120.23 L256.50,120.05 L257.00,119.87 L257.50,119.70 L258.00,119.52 L258.50,119.35 L259.00,119.17 L259.50,119.00 L260.00,118.83 L260.50,118.67 L261.00,118.50 L261.50,118.33 L262.00,118.15 L262.50,117.98 L263.00,117.81 L263.50,117.63 L264.00,117.46 L264.50,117.29 L265.00,117.12 L265.50,116.95 L266.00,116.79 L266.50,116.63 L267.00,116.47 L267.50,116.32 L268.00,116.18 L268.50,116.04 L269.00,115.91 L269.50,115.78 L270.00,115.66 L270.50,115.54 L271.00,115.42 L271.50,115.30 L272.00,115.18 L272.50,115.07 L273.00,114.96 L273.50,114.86 L274.00,114.77 L274.50,114.68 L275.00,114.61 L275.50,114.54 L276.00,114.48 L276.50,114.43 L277.00,114.38 L277.50,114.33 L278.00,114.29 L278.50,114.24 L279.00,114.20 L279.50,114.17 L280.00,114.14 L280.50,114.11 L281.00,114.09 L281.50,114.08 L282.00,114.07 L282.50,114.08 L283.00,114.11 L283.50,114.16 L284.00,114.22 L284.50,114.29 L285.00,114.38 L285.50,114.47 L286.00,114.58 L286.50,114.69 L287.00,114.81 L287.50,114.92 L288.00,115.04 L288.50,115.16 L289.00,115.28 L289.50,115.39 L290.00,115.50 L290.50,115.61 L291.00,115.72 L291.50,115.84 L292.00,115.95 L292.50,116.08 L293.00,116.20 L293.50,116.33 L294.00,116.46 L294.50,116.59 L295.00,116.73 L295.50,116.86 L296.00,117.00 L296.50,117.14 L297.00,117.27 L297.50,117.41 L298.00,117.55 L298.50,117.69 L299.00,117.82 L299.50,117.96 L300.00,118.10 L300.50,118.23 L301.00,118.36 L301.50,118.49 L302.00,118.62 L302.50,118.76 L303.00,118.89 L303.50,119.02 L304.00,119.16 L304.50,119.30 L305.00,119.43 L305.50,119.57 L306.00,119.70 L306.50,119.84 L307.00,119.97 L307.50,120.11 L308.00,120.24 L308.50,120.37 L309.00,120.50 L309.50,120.62 L310.00,120.75 L310.50,120.87 L311.00,120.99 L311.50,121.10 L312.00,121.22 L312.50,121.33 L313.00,121.44 L313.50,121.55 L314.00,121.65 L314.50,121.76 L315.00,121.87 L315.50,121.97 L316.00,122.08 L316.50,122.18 L317.00,122.28 L317.50,122.38 L318.00,122.48 L318.50,122.57 L319.00,122.67 L319.50,122.76 L320.00,122.85 L320.50,122.94 L321.00,123.03 L321.50,123.12 L322.00,123.20 L322.50,123.28 L323.00,123.36 L323.50,123.44 L324.00,123.51 L324.50,123.59 L325.00,123.67 L325.50,123.74 L326.00,123.82 L326.50,123.89 L327.00,123.97 L327.50,124.04 L328.00,124.11 L328.50,124.18 L329.00,124.25 L329.50,124.31 L330.00,124.38 L330.50,124.44 L331.00,124.50 L331.50,124.56 L332.00,124.61 L332.50,124.67 L333.00,124.72 L333.50,124.76 L334.00,124.81 L334.50,124.85 L335.00,124.89 L335.50,124.92 L336.00,124.96 L336.50,124.99 L337.00,125.03 L337.50,125.06 L338.00,125.09 L338.50,125.12 L339.00,125.15 L339.50,125.18 L340.00,125.21 L340.50,125.24 L341.00,125.26 L341.50,125.29 L342.00,125.31 L342.50,125.33 L343.00,125.35 L343.50,125.36 L344.00,125.38 L344.50,125.39 L345.00,125.40 L345.50,125.41 L346.00,125.41 L346.50,125.42 L347.00,125.43 L347.50,125.44 L348.00,125.45 L348.50,125.45 L349.00,125.46 L349.50,125.46 L350.00,125.47 L350.50,125.48 L351.00,125.48 L351.50,125.48 L352.00,125.49 L352.50,125.49 L353.00,125.49 L353.50,125.50 L354.00,125.50 L354.50,125.50 L355.00,125.50 L355.50,125.50 L356.00,125.50 L356.50,125.50 L357.00,125.50 L357.50,125.50 L358.00,125.50 L358.50,125.50 L359.00,125.50 L359.50,125.50 L360.00,125.50 L360.50,125.50 L361.00,125.50 L361.50,125.50 L362.00,125.50 L362.50,125.50 L363.00,125.50 L363.50,125.50 L364.00,125.50 L364.50,125.50 L365.00,125.50 L365.50,125.50 L366.00,125.50 L366.50,125.50 L367.00,125.50 L367.50,125.50 L368.00,125.50 L368.50,125.50 L369.00,125.50 L369.50,125.50 L370.00,125.50 L370.50,125.50 L371.00,125.50 L371.50,125.50 L372.00,125.50 L372.50,125.50 L373.00,125.50 L373.50,125.50 L374.00,125.50 L374.50,125.50 L375.00,125.50 L375.50,125.50 L376.00,125.50 L376.50,125.50 L377.00,125.50 L377.50,125.50 L378.00,125.50 L378.50,125.50 L379.00,125.50 L379.50,125.50 L380.00,125.50 L380.50,125.50 L381.00,125.50 L381.50,125.50 L382.00,125.50 L382.50,125.50 L383.00,125.50 L383.50,125.50 L384.00,125.50 L384.50,125.50 L385.00,125.50 L385.50,125.50 L386.00,125.50 L386.50,125.50 L387.00,125.50 L387.50,125.50 L388.00,125.50 L388.50,125.50 L389.00,125.50 L389.50,125.50 L390.00,125.50 L390.50,125.50 L391.00,125.50 L391.50,125.50 L392.00,125.50 L392.50,125.50 L393.00,125.50 L393.50,125.50 L394.00,125.50 L394.50,125.50 L395.00,125.50 L395.50,125.50 L396.00,125.50 L396.50,125.50 L397.00,125.50 L397.50,125.50 L398.00,125.50 L398.50,125.50 L399.00,125.50 L399.50,125.50 L400.00,125.50 L400.50,125.50 L401.00,125.50 L401.50,125.50 L402.00,125.50 L402.50,125.50 L403.00,125.50 L403.50,125.50 L404.00,125.50 L404.50,125.50 L405.00,125.50 L405.50,125.50 L406.00,125.50 L406.50,125.50 L407.00,125.50 L407.50,125.50 L408.00,125.50 L408.50,125.50 L409.00,125.50 L409.50,125.50 L410.00,125.50 L410.50,125.50 L411.00,125.50 L411.50,125.50 L412.00,125.50 L412.50,125.50 L413.00,125.50 L413.50,125.50 L414.00,125.50 L414.50,125.50 L415.00,125.50 L415.50,125.50 L416.00,125.50 L416.50,125.50 L417.00,125.50 L417.50,125.50 L418.00,125.50 L418.50,125.50 L419.00,125.50 L419.50,125.50 L420.00,125.50 L420.50,125.50 L421.00,125.50 L421.50,125.50 L422.00,125.50 L422.50,125.50 L423.00,125.50 L423.50,125.50 L424.00,125.50 L424.50,125.50 L425.00,125.50 L425.50,125.50 L426.00,125.50" fill="none" stroke="#00ff00" stroke-width="2.3" stroke-dasharray="5.23 3.22"/>
<path d="M25.50,160.90 L26.00,160.90 L26.50,160.90 L27.00,160.90 L27.50,160.90 L28.00,160.90 L28.50,160.90 L29.00,160.90 L29.50,160.90 L30.00,160.90 L30.50,160.90 L31.00,160.90 L31.50,160.90 L32.00,160.90 L32.50,160.90 L33.00,160.90 L33.50,160.90 L34.00,160.90 L34.50,160.90 L35.00,160.90 L35.50,160.90 L36.00,160.90 L36.50,160.90 L37.00,160.90 L37.50,160.90 L38.00,160.90 L38.50,160.90 L39.00,160.90 L39.50,160.90 L40.00,160.90 L40.50,160.90 L41.00,160.90 L41.50,160.90 L42.00,160.90 L42.50,160.90 L43.00,160.90 L43.50,160.90 L44.00,160.90 L44.50,160.90 L45.00,160.90 L45.50,160.90 L46.00,160.90 L46.50,160.90 L47.00,160.90 L47.50,160.90 L48.00,160.90 L48.50,160.90 L49.00,160.90 L49.50,160.90 L50.00,160.90 L50.50,160.90 L51.00,160.90 L51.50,160.90 L52.00,160.90 L52.50,160.90 L53.00,160.90 L53.50,160.90 L54.00,160.90 L54.50,160.90 L55.00,160.90 L55.50,160.90 L56.00,160.90 L56.50,160.90 L57.00,160.90 L57.50,160.90 L58.00,160.90 L58.50,160.90 L59.00,160.90 L59.50,160.90 L60.00,160.90 L60.50,160.90 L61.00,160.90 L61.50,160.90 L62.00,160.90 L62.50,160.90 L63.00,160.90 L63.50,160.90 L64.00,160.90 L64.50,160.90 L65.00,160.90 L65.50,160.90 L66.00,160.90 L66.50,160.90 L67.00,160.90 L67.50,160.90 L68.00,160.90 L68.50,160.90 L69.00,160.90 L69.50,160.90 L70.00,160.90 L70.50,160.90 L71.00,160.90 L71.50,160.90 L72.00,160.90 L72.50,160.90 L73.00,160.90 L73.50,160.90 L74.00,160.90 L74.50,160.90 L75.00,160.90 L75.50,160.90 L76.00,160.90 L76.50,160.90 L77.00,160.90 L77.50,160.90 L78.00,160.90 L78.50,160.90 L79.00,160.90 L79.50,160.90 L80.00,160.90 L80.50,160.90 L81.00,160.90 L81.50,160.90 L82.00,160.90 L82.50,160.90 L83.00,160.90 L83.50,160.90 L84.00,160.90 L84.50,160.90 L85.00,160.90 L85.50,160.90 L86.00,160.90 L86.50,160.90 L87.00,160.90 L87.50,160.90 L88.00,160.90 L88.50,160.90 L89.00,160.90 L89.50,160.90 L90.00,160.90 L90.50,160.90 L91.00,160.90 L91.50,160.90 L92.00,160.90 L92.50,160.90 L93.00,160.90 L93.50,160.90 L94.00,160.90 L94.50,160.90 L95.00,160.90 L95.50,160.90 L96.00,160.90 L96.50,160.90 L97.00,160.90 L97.50,160.90 L98.00,160.90 L98.50,160.90 L99.00,160.90 L99.50,160.90 L100.00,160.90 L100.50,160.90 L101.00,160.90 L101.50,160.90 L102.00,160.90 L102.50,160.90 L103.00,160.90 L103.50,160.90 L104.00,160.90 L104.50,160.90 L105.00,160.90 L105.50,160.90 L106.00,160.90 L106.50,160.90 L107.00,160.90 L107.50,160.90 L108.00,160.90 L108.50,160.90 L109.00,160.90 L109.50,160.90 L110.00,160.90 L110.50,160.90 L111.00,160.90 L111.50,160.90 L112.00,160.90 L112.50,160.90 L113.00,160.90 L113.50,160.90 L114.00,160.90 L114.50,160.90 L115.00,160.90 L115.50,160.90 L116.00,160.90 L116.50,160.90 L117.00,160.90 L117.50,160.90 L118.00,160.90 L118.50,160.90 L119.00,160.90 L119.50,160.90 L120.00,160.90 L120.50,160.90 L121.00,160.90 L121.50,160.90 L122.00,160.90 L122.50,160.90 L123.00,160.90 L123.50,160.90 L124.00,160.90 L124.50,160.90 L125.00,160.90 L125.50,160.90 L126.00,160.90 L126.50,160.90 L127.00,160.90 L127.50,160.90 L128.00,160.90 L128.50,160.90 L129.00,160.90 L129.50,160.90 L130.00,160.90 L130.50,160.90 L131.00,160.90 L131.50,160.90 L132.00,160.90 L132.50,160.90 L133.00,160.90 L133.50,160.90 L134.00,160.90 L134.50,160.90 L135.00,160.90 L135.50,160.90 L136.00,160.90 L136.50,160.90 L137.00,160.90 L137.50,160.90 L138.00,160.90 L138.50,160.90 L139.00,160.90 L139.50,160.90 L140.00,160.90 L140.50,160.90 L141.00,160.90 L141.50,160.89 L142.00,160.88 L142.50,160.87 L143.00,160.86 L143.50,160.85 L144.00,160.83 L144.50,160.81 L145.00,160.79 L145.50,160.77 L146.00,160.75 L146.50,160.73 L147.00,160.70 L147.50,160.67 L148.00,160.65 L148.50,160.62 L149.00,160.59 L149.50,160.55 L150.00,160.52 L150.50,160.49 L151.00,160.45 L151.50,160.42 L152.00,160.38 L152.50,160.35 L153.00,160.31 L153.50,160.27 L154.00,160.23 L154.50,160.19 L155.00,160.15 L155.50,160.11 L156.00,160.07 L156.50,160.03 L157.00,159.99 L157.50,159.95 L158.00,159.91 L158.50,159.87 L159.00,159.83 L159.50,159.79 L160.00,159.74 L160.50,159.69 L161.00,159.64 L161.50,159.59 L162.00,159.53 L162.50,159.48 L163.00,159.42 L163.50,159.36 L164.00,159.30 L164.50,159.23 L165.00,159.17 L165.50,159.10 L166.00,159.03 L166.50,158.96 L167.00,158.89 L167.50,158.81 L168.00,158.74 L168.50,158.66 L169.00,158.59 L169.50,158.51 L170.00,158.43 L170.50,158.34 L171.00,158.26 L171.50,158.18 L172.00,158.09 L172.50,158.00 L173.00,157.92 L173.50,157.83 L174.00,157.74 L174.50,157.65 L175.00,157.56 L175.50,157.47 L176.00,157.38 L176.50,157.28 L177.00,157.19 L177.50,157.09 L178.00,156.99 L178.50,156.88 L179.00,156.77 L179.50,156.66 L180.00,156.54 L180.50,156.43 L181.00,156.30 L181.50,156.18 L182.00,156.05 L182.50,155.92 L183.00,155.79 L183.50,155.66 L184.00,155.52 L184.50,155.38 L185.00,155.25 L185.50,155.11 L186.00,154.97 L186.50,154.83 L187.00,154.68 L187.50,154.54 L188.00,154.40 L188.50,154.26 L189.00,154.12 L189.50,153.98 L190.00,153.83 L190.50,153.69 L191.00,153.54 L191.50,153.39 L192.00,153.23 L192.50,153.08 L193.00,152.92 L193.50,152.76 L194.00,152.60 L194.50,152.44 L195.00,152.28 L195.50,152.12 L196.00,151.96 L196.50,151.80 L197.00,151.64 L197.50,151.49 L198.00,151.33 L198.50,151.17 L199.00,151.02 L199.50,150.86 L200.00,150.71 L200.50,150.56 L201.00,150.40 L201.50,150.25 L202.00,150.10 L202.50,149.94 L203.00,149.79 L203.50,149.63 L204.00,149.48 L204.50,149.32 L205.00,149.17 L205.50,149.01 L206.00,148.86 L206.50,148.70 L207.00,148.54 L207.50,148.38 L208.00,148.22 L208.50,148.05 L209.00,147.88 L209.50,147.71 L210.00,147.54 L210.50,147.36 L211.00,147.19 L211.50,147.01 L212.00,146.84 L212.50,146.67 L213.00,146.49 L213.50,146.32 L214.00,146.15 L214.50,145.99 L215.00,145.83 L215.50,145.67 L216.00,145.52 L216.50,145.37 L217.00,145.23 L217.50,145.09 L218.00,144.95 L218.50,144.81 L219.00,144.67 L219.50,144.54 L220.00,144.41 L220.50,144.28 L221.00,144.15 L221.50,144.02 L222.00,143.90 L222.50,143.78 L223.00,143.66 L223.50,143.55 L224.00,143.44 L224.50,143.33 L225.00,143.23 L225.50,143.13 L226.00,143.04 L226.50,142.95 L227.00,142.86 L227.50,142.77 L228.00,142.69 L228.50,142.60 L229.00,142.52 L229.50,142.44 L230.00,142.36 L230.50,142.29 L231.00,142.21 L231.50,142.14 L232.00,142.07 L232.50,142.01 L233.00,141.95 L233.50,141.89 L234.00,141.83 L234.50,141.78 L235.00,141.73 L235.50,141.68 L236.00,141.64 L236.50,141.59 L237.00,141.55 L237.50,141.50 L238.00,141.45 L238.50,141.41 L239.00,141.37 L239.50,141.32 L240.00,141.29 L240.50,141.25 L241.00,141.22 L241.50,141.19 L242.00,141.16 L242.50,141.14 L243.00,141.12 L243.50,141.11 L244.00,141.10 L244.50,141.10 L245.00,141.11 L245.50,141.12 L246.00,141.14 L246.50,141.17 L247.00,141.20 L247.50,141.24 L248.00,141.29 L248.50,141.34 L249.00,141.40 L249.50,141.45 L250.00,141.52 L250.50,141.58 L251.00,141.65 L251.50,141.72 L252.00,141.79 L252.50,141.86 L253.00,141.93 L253.50,142.00 L254.00,142.08 L254.50,142.16 L255.00,142.25 L255.50,142.35 L256.00,142.45 L256.50,142.56 L257.00,142.68 L257.50,142.80 L258.00,142.93 L258.50,143.06 L259.00,143.20 L259.50,143.34 L260.00,143.48 L260.50,143.62 L261.00,143.77 L261.50,143.91 L262.00,144.06 L262.50,144.21 L263.00,144.35 L263.50,144.50 L264.00,144.65 L264.50,144.80 L265.00,144.96 L265.50,145.12 L266.00,145.28 L266.50,145.45 L267.00,145.62 L267.50,145.79 L268.00,145.97 L268.50,146.15 L269.00,146.33 L269.50,146.51 L270.00,146.69 L270.50,146.87 L271.00,147.05 L271.50,147.23 L272.00,147.42 L272.50,147.60 L273.00,147.78 L273.50,147.96 L274.00,148.14 L274.50,148.33 L275.00,148.52 L275.50,148.71 L276.00,148.90 L276.50,149.09 L277.00,149.28 L277.50,149.47 L278.00,149.66 L278.50,149.85 L279.00,150.04 L279.50,150.23 L280.00,150.42 L280.50,150.61 L281.00,150.80 L281.50,150.99 L282.00,151.18 L282.50,151.36 L283.00,151.55 L283.50,151.74 L284.00,151.93 L284.50,152.12 L285.00,152.31 L285.50,152.50 L286.00,152.69 L286.50,152.88 L287.00,153.07 L287.50,153.25 L288.00,153.43 L288.50,153.62 L289.00,153.79 L289.50,153.97 L290.00,154.14 L290.50,154.31 L291.00,154.47 L291.50,154.63 L292.00,154.79 L292.50,154.95 L293.00,155.10 L293.50,155.26 L294.00,155.41 L294.50,155.56 L295.00,155.71 L295.50,155.86 L296.00,156.00 L296.50,156.15 L297.00,156.29 L297.50,156.42 L298.00,156.56 L298.50,156.69 L299.00,156.82 L299.50,156.95 L300.00,157.07 L300.50,157.20 L301.00,157.32 L301.50,157.44 L302.00,157.56 L302.50,157.68 L303.00,157.79 L303.50,157.91 L304.00,158.02 L304.50,158.13 L305.00,158.24 L305.50,158.34 L306.00,158.45 L306.50,158.55 L307.00,158.65 L307.50,158.74 L308.00,158.83 L308.50,158.92 L309.00,159.00 L309.50,159.08 L310.00,159.15 L310.50,159.23 L311.00,159.30 L311.50,159.37 L312.00,159.44 L312.50,159.51 L313.00,159.58 L313.50,159.64 L314.00,159.70 L314.50,159.76 L315.00,159.82 L315.50,159.88 L316.00,159.93 L316.50,159.99 L317.00,160.04 L317.50,160.09 L318.00,160.13 L318.50,160.18 L319.00,160.22 L319.50,160.26 L320.00,160.31 L320.50,160.35 L321.00,160.39 L321.50,160.43 L322.00,160.47 L322.50,160.51 L323.00,160.55 L323.50,160.59 L324.00,160.62 L324.50,160.65 L325.00,160.68 L325.50,160.71 L326.00,160.74 L326.50,160.76 L327.00,160.77 L327.50,160.79 L328.00,160.80 L328.50,160.81 L329.00,160.81 L329.50,160.82 L330.00,160.83 L330.50,160.83 L331.00,160.84 L331.50,160.85 L332.00,160.85 L332.50,160.86 L333.00,160.86 L333.50,160.87 L334.00,160.87 L334.50,160.88 L335.00,160.88 L335.50,160.88 L336.00,160.89 L336.50,160.89 L337.00,160.89 L337.50,160.89 L338.00,160.90 L338.50,160.90 L339.00,160.90 L339.50,160.90 L340.00,160.90 L340.50,160.90 L341.00,160.90 L341.50,160.90 L342.00,160.90 L342.50,160.90 L343.00,160.90 L343.50,160.90 L344.00,160.90 L344.50,160.90 L345.00,160.90 L345.50,160.90 L346.00,160.90 L346.50,160.90 L347.00,160.90 L347.50,160.90 L348.00,160.90 L348.50,160.90 L349.00,160.90 L349.50,160.90 L350.00,160.90 L350.50,160.90 L351.00,160.90 L351.50,160.90 L352.00,160.90 L352.50,160.90 L353.00,160.90 L353.50,160.90 L354.00,160.90 L354.50,160.90 L355.00,160.90 L355.50,160.90 L356.00,160.90 L356.50,160.90 L357.00,160.90 L357.50,160.90 L358.00,160.90 L358.50,160.90 L359.00,160.90 L359.50,160.90 L360.00,160.90 L360.50,160.90 L361.00,160.90 L361.50,160.90 L362.00,160.90 L362.50,160.90 L363.00,160.90 L363.50,160.90 L364.00,160.90 L364.50,160.90 L365.00,160.90 L365.50,160.90 L366.00,160.90 L366.50,160.90 L367.00,160.90 L367.50,160.90 L368.00,160.90 L368.50,160.90 L369.00,160.90 L369.50,160.90 L370.00,160.90 L370.50,160.90 L371.00,160.90 L371.50,160.90 L372.00,160.90 L372.50,160.90 L373.00,160.90 L373.50,160.90 L374.00,160.90 L374.50,160.90 L375.00,160.90 L375.50,160.90 L376.00,160.90 L376.50,160.90 L377.00,160.90 L377.50,160.90 L378.00,160.90 L378.50,160.90 L379.00,160.90 L379.50,160.90 L380.00,160.90 L380.50,160.90 L381.00,160.90 L381.50,160.90 L382.00,160.90 L382.50,160.90 L383.00,160.90 L383.50,160.90 L384.00,160.90 L384.50,160.90 L385.00,160.90 L385.50,160.90 L386.00,160.90 L386.50,160.90 L387.00,160.90 L387.50,160.90 L388.00,160.90 L388.50,160.90 L389.00,160.90 L389.50,160.90 L390.00,160.90 L390.50,160.90 L391.00,160.90 L391.50,160.90 L392.00,160.90 L392.50,160.90 L393.00,160.90 L393.50,160.90 L394.00,160.90 L394.50,160.90 L395.00,160.90 L395.50,160.90 L396.00,160.90 L396.50,160.90 L397.00,160.90 L397.50,160.90 L398.00,160.90 L398.50,160.90 L399.00,160.90 L399.50,160.90 L400.00,160.90 L400.50,160.90 L401.00,160.90 L401.50,160.90 L402.00,160.90 L402.50,160.90 L403.00,160.90 L403.50,160.90 L404.00,160.90 L404.50,160.90 L405.00,160.90 L405.50,160.90 L406.00,160.90 L406.50,160.90 L407.00,160.90 L407.50,160.90 L408.00,160.90 L408.50,160.90 L409.00,160.90 L409.50,160.90 L410.00,160.90 L410.50,160.90 L411.00,160.90 L411.50,160.90 L412.00,160.90 L412.50,160.90 L413.00,160.90 L413.50,160.90 L414.00,160.90 L414.50,160.90 L415.00,160.90 L415.50,160.90 L416.00,160.90 L416.50,160.90 L417.00,160.90 L417.50,160.90 L418.00,160.90 L418.50,160.90 L419.00,160.90 L419.50,160.90 L420.00,160.90 L420.50,160.90 L421.00,160.90 L421.50,160.90 L422.00,160.90 L422.50,160.90 L423.00,160.90 L423.50,160.90 L424.00,160.90 L424.50,160.90 L425.00,160.90 L425.50,160.90 L426.00,160.90" fill="none" stroke="#ff0000" stroke-width="2.3" stroke-dasharray="5.23 3.22"/>
<g fill="none" stroke="#000" stroke-width="2.2" stroke-dasharray="3.14 1.704">
<path d="M24.35,95.3 H427"/>
<path d="M24.35,125.5 H427"/>
<path d="M24.35,160.9 H427"/>
</g>
<path d="M25.35,0 V261 M105.50,77 V97.6 M185.65,77 V97.6 M265.80,77 V97.6 M345.95,77 V97.6 M426.10,77 V97.6" stroke="#666" stroke-opacity="0.44" stroke-width="1" fill="none"/>
<path d="M17,87.5 H434.5 M25.35,262.45 h3.35 M25.35,253.70 h2.05 M25.35,244.95 h2.05 M25.35,236.20 h2.05 M25.35,227.45 h3.35 M25.35,218.70 h2.05 M25.35,209.95 h2.05 M25.35,201.20 h2.05 M25.35,192.45 h3.35 M25.35,183.70 h2.05 M25.35,174.95 h2.05 M25.35,166.20 h2.05 M25.35,157.45 h3.35 M25.35,148.70 h2.05 M25.35,139.95 h2.05 M25.35,131.20 h2.05 M25.35,122.45 h3.35 M25.35,113.70 h2.05 M25.35,104.95 h2.05 M25.35,96.20 h2.05 M25.35,87.45 h3.35 M25.35,78.70 h2.05 M25.35,69.95 h2.05 M25.35,61.20 h2.05 M25.35,52.45 h3.35 M25.35,43.70 h2.05 M25.35,34.95 h2.05 M25.35,26.20 h2.05 M25.35,17.45 h3.35 M25.35,8.70 h2.05 M25.35,-0.05 h2.05" stroke="#666" stroke-opacity="0.35" stroke-width="1" fill="none"/>
</svg>
<svg width="436" height="261" viewBox="0 0 436 261" style="position:absolute;left:0;top:0;will-change:transform;">
<text transform="translate(0,112.5) scale(1,1.05)" x="105.35" y="0" dx="0 0 -0.7" text-anchor="middle">0.5</text><path d="M763 0H583V1147Q518 1085 412.5 1023Q307 961 223 930V1104Q374 1175 487 1276Q600 1377 647 1472H763Z" transform="translate(182.51,112.50) scale(0.005713,-0.005999)" fill="#666" stroke="#666" stroke-width="35.0"/><path d="M763 0H583V1147Q518 1085 412.5 1023Q307 961 223 930V1104Q374 1175 487 1276Q600 1377 647 1472H763Z" transform="translate(257.95,112.50) scale(0.005713,-0.005999)" fill="#666" stroke="#666" stroke-width="35.0"/><text transform="translate(0,112.5) scale(1,1.05)" x="264.25 267.65" y="0">.5</text><text transform="translate(0,112.5) scale(1,1.05)" x="345.95" y="0" text-anchor="middle">2</text><text transform="translate(0,112.5) scale(1,1.05)" x="425.95" y="0" dx="0 0 -0.7" text-anchor="middle">2.5</text><text transform="translate(0,22.45) scale(1,1.05)" x="21.6" y="0" text-anchor="end">40</text><text transform="translate(0,57.45) scale(1,1.05)" x="21.6" y="0" text-anchor="end">20</text><path d="M0.95,123.70 H6.35" stroke="#666" stroke-width="0.95" fill="none"/><text transform="translate(0,127.45) scale(1,1.05)" x="21.6" y="0" text-anchor="end">20</text><path d="M0.95,158.70 H6.35" stroke="#666" stroke-width="0.95" fill="none"/><text transform="translate(0,162.45) scale(1,1.05)" x="21.6" y="0" text-anchor="end">40</text><path d="M0.95,193.70 H6.35" stroke="#666" stroke-width="0.95" fill="none"/><text transform="translate(0,197.45) scale(1,1.05)" x="21.6" y="0" text-anchor="end">60</text><path d="M0.95,228.70 H6.35" stroke="#666" stroke-width="0.95" fill="none"/><text transform="translate(0,232.45) scale(1,1.05)" x="21.6" y="0" text-anchor="end">80</text>
</svg>
</body></html>
